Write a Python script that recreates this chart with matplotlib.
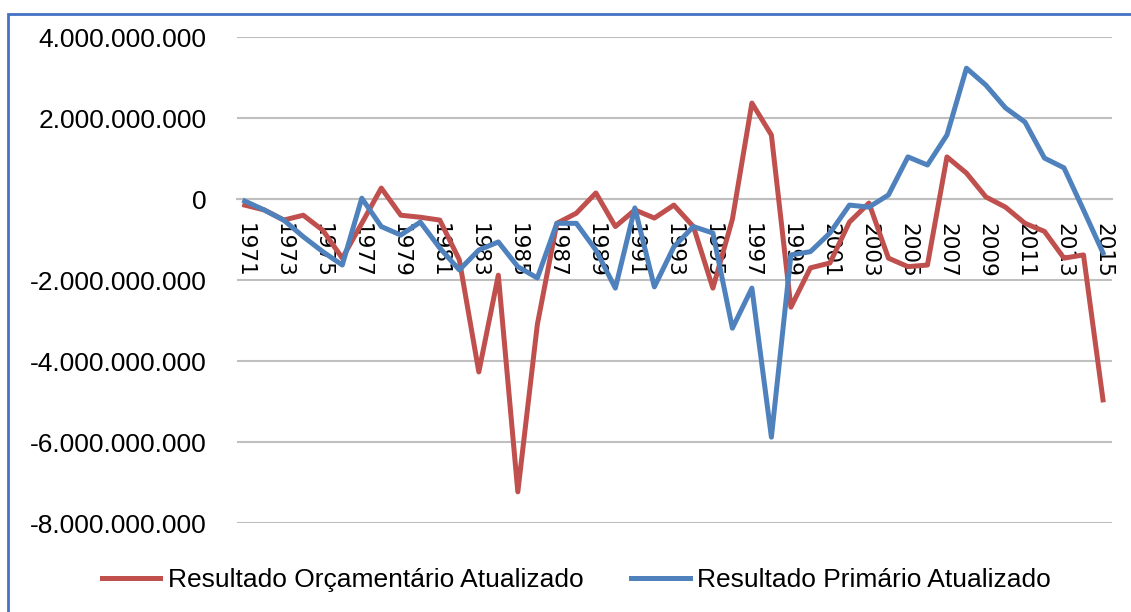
import matplotlib
matplotlib.use("Agg")
import matplotlib.pyplot as plt
from matplotlib.ticker import FuncFormatter
from matplotlib.patches import Rectangle

anos = list(range(1971, 2016))

# valores em bilhões
orcamentario = [-0.15, -0.27, -0.52, -0.40, -0.77, -1.46, -0.60, 0.27, -0.40, -0.45,
                -0.52, -1.50, -4.27, -1.88, -7.23, -3.10, -0.60, -0.35, 0.15, -0.68,
                -0.27, -0.47, -0.15, -0.68, -2.20, -0.50, 2.37, 1.58, -2.67, -1.70,
                -1.58, -0.57, -0.10, -1.46, -1.67, -1.63, 1.04, 0.64, 0.05, -0.20,
                -0.60, -0.80, -1.46, -1.38, -4.96]
primario = [-0.05, -0.27, -0.52, -0.93, -1.30, -1.63, 0.02, -0.68, -0.89, -0.57,
            -1.21, -1.75, -1.26, -1.06, -1.67, -1.95, -0.60, -0.60, -1.26, -2.20,
            -0.22, -2.17, -1.18, -0.68, -0.84, -3.19, -2.20, -5.88, -1.38, -1.30,
            -0.84, -0.15, -0.20, 0.10, 1.04, 0.84, 1.58, 3.23, 2.81, 2.25,
            1.90, 1.01, 0.77, -0.27, -1.33]

orcamentario = [v * 1e9 for v in orcamentario]
primario = [v * 1e9 for v in primario]

fig = plt.figure(figsize=(11.31, 6.12), dpi=100)
ax = fig.add_axes([0.2095, 0.1454, 0.7735, 0.7941])

ax.plot(anos, orcamentario, color="#C0504D", lw=3.6, label="Resultado Orçamentário Atualizado", zorder=3)
ax.plot(anos, primario, color="#4F81BD", lw=3.6, label="Resultado Primário Atualizado", zorder=3)

# eixo horizontal cruzando no zero (antes de mexer nos rótulos)
for s in ["top", "right", "left"]:
    ax.spines[s].set_visible(False)
ax.spines["bottom"].set_position(("data", 0))
ax.spines["bottom"].set_color("#BFBFBF")
ax.spines["bottom"].set_linewidth(1.5)

ax.set_ylim(-8e9, 4e9)
ax.set_yticks([4e9, 2e9, 0, -2e9, -4e9, -6e9, -8e9])
ax.yaxis.set_major_formatter(FuncFormatter(lambda v, p: f"{int(round(v)):,}".replace(",", ".")))
ax.set_xlim(1970.6, 2015.45)
ax.set_xticks(anos[::2])
ax.set_xticklabels([str(a) for a in anos[::2]])

ax.grid(axis="y", color="#BFBFBF", lw=1.5)
ax.set_axisbelow(True)
ax.tick_params(axis="x", length=0, pad=17, labelrotation=270, labelsize=15.5)
ax.tick_params(axis="y", length=0, pad=22, labelsize=19)
for lbl in ax.get_yticklabels():
    lbl.set_family("Liberation Sans")
for lbl in ax.get_xticklabels():
    lbl.set_family("DejaVu Sans")

fig.legend(loc="center", bbox_to_anchor=(0.51, 0.052), ncol=2, frameon=False,
           prop={"family": "Liberation Sans", "size": 19}, handlelength=2.2,
           columnspacing=1.8, handletextpad=0.3)

fig.add_artist(Rectangle((0.007, -0.5), 2, 0.977 + 0.5, transform=fig.transFigure,
                         fill=False, edgecolor="#4472C4", lw=2))

fig.savefig("out.png", dpi=100)
